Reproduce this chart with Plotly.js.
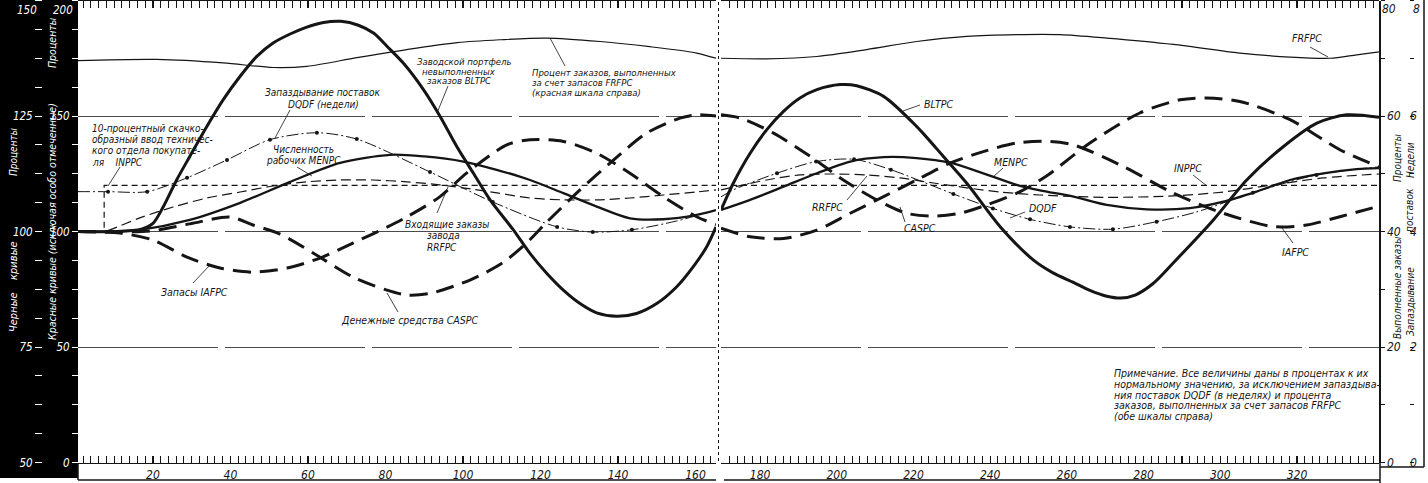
<!DOCTYPE html>
<html><head><meta charset="utf-8">
<script src="https://cdn.plot.ly/plotly-3.0.1.min.js"></script>
<style>html,body{margin:0;padding:0;background:#fff}#chart{width:1428px;height:483px}</style>
</head><body><div id="chart"></div>
<script>
// ---------------- DATA ----------------
// Panel 1 (weeks ~0-165), red scale % unless noted
const bltpcT1 = [0.6,10,17,20,22.7,26.1,29.5,33.9,38.1,42.5,46.8,51,55.4,59.7,64,68.5,73,77,80.5,84.6,89.8,94.1,98.4,102.7,107,113,117.3,121.6,125.9,130.2,134.5,139.7,144.8,150,155.1,159.4,162.9,165.3];
const bltpc1  = [100,100,101,103.5,110.8,122.3,132.5,145.5,157,167.2,175.8,181.6,185.5,188.5,190.5,191,189.3,185.8,180,172.9,161.4,149.8,136.8,125.2,113.7,100.7,90.5,81.9,74.6,68.8,64.8,63.3,64.5,68.8,76,84.7,93.4,102];
const menpcT1 = [0.6,10,16.6,29.5,42.5,55.4,68.3,81.2,90,100.1,108.7,117.3,125.9,134.5,143.1,151.7,160.3,165.3];
const menpc1  = [100,100,100.7,105,112.4,121.5,129.7,133.2,132.5,130.3,126.7,122.3,116.6,110.8,105.7,105.3,107.2,109.3];
const iafpcT1 = [0.6,11.5,20,28.8,37.3,45.8,54.6,63.1,71.6,80.4,85.5,94,101,111.3,117.3,125.9,134.5,143.1,151.7,160.3,165.3];
const iafpc1  = [100,99.3,96.3,88.9,84.2,82.4,84.2,88.5,95,101.9,106.3,115,125.4,137.5,139.7,139,133.9,125.2,115.1,106.4,103];
const caspcT1 = [0.6,19.2,29.5,39.9,45.8,52.8,61.3,71.6,80.4,85.5,91.5,101.8,110.3,117,121.6,130.2,138.9,147.4,156,160.3,165.3];
const caspc1  = [100,100.2,103.3,106.3,102.8,98.9,90.7,80.3,74.6,72.5,73.2,79,86.5,96,104,118,131,142.6,149.1,150.5,150];
const rrfpcT1 = [0.6,7.4,8.9,16.6,25.2,33.9,42.5,51,59.7,68.3,76.8,85.5,94,100,108.8,117.3,125.8,134.6,143.1,151.7,160.3,165.3];
const rrfpc1  = [100,100,100.7,105.9,110.6,114.5,117.1,119.7,121.5,122.3,122.3,121.5,120.2,118.9,116.7,114.5,113.7,113.7,114.5,115.8,117.1,118];
// INPPC on the black scale (10 % step)
const inppcT1 = [0.6,7.4,7.4,165.3];
const inppc1  = [100,100,110,110];
// FRFPC, % of orders filled from stock (right scale 0-80)
const frfpcT1 = [0.6,21,38.1,51,59.7,72.6,85.5,98.5,109.5,121.6,135.4,148.2,160.3,165.3];
const frfpc1  = [69.6,69.8,69.2,68.4,68.6,70.1,71.5,72.7,73.2,73.5,72.9,72,70.9,70];
// DQDF, delivery delay in weeks (right scale 0-8)
const dqdfT1 = [0.6,8.4,18.5,28.8,39.1,50.2,62.3,72.6,91.5,107.7,124.3,133.5,143.6,155,165.3];
const dqdf1  = [4.69,4.69,4.69,4.93,5.24,5.59,5.71,5.60,5.03,4.51,4.08,3.99,4.03,4.18,4.37];
const dqdfDotT1 = [8.4,18.5,28.8,39.1,50.2,62.3,72.6,91.5,107.7,124.3,133.5,143.6];
const dqdfDot1  = [4.69,4.69,4.93,5.24,5.59,5.71,5.60,5.03,4.51,4.08,3.99,4.03];

// Panel 2 (weeks ~170-341)
const bltpcT2 = [169.8,173,177.4,181.7,186.1,190.4,194.8,200.9,205.2,212.2,220.8,227.8,233.9,242.6,251.3,256.5,261.7,266,270.4,274.1,277.8,282.5,287.8,298.2,306.9,316.5,325.2,333,341.4];
const bltpc2  = [109.3,120.9,133.9,144,152,157.8,161.4,163.6,163.1,158.5,145.5,132.5,120.9,102.1,87.6,82,78,74.5,72,71.2,72.5,77.5,86.5,105,122.3,136.8,146.9,150.5,149.5];
const menpcT2 = [169.8,177.4,186.1,194.8,203.5,212.2,220.8,229.5,238.2,246.9,253,261.7,270.4,280.8,292.1,300.8,309.5,318.2,326.9,335.6,341.4];
const menpc2  = [109.3,113.7,119.4,125.2,130.3,132.2,131.8,129.8,125.2,120.2,117.8,115.1,111.5,109.6,110.1,112.9,117.3,122.3,125.2,127,127.4];
const iafpcT2 = [169.8,177.4,186.1,194.8,203.5,212.2,220.8,229.5,238.2,246.9,255.6,261.7,274.8,287.8,300.8,313.9,322.5,331.2,341.4];
const iafpc2  = [101.4,97.7,97,100.6,107.9,115.1,122.3,129.6,134.6,138.3,139,137.5,128.1,116.6,107.9,102.1,102.8,106.4,111];
const caspcT2 = [169.8,174.8,183.5,193.1,201.7,210.4,218.2,225.2,232.1,239.1,247.8,254.5,266,279,289.5,296.4,305.1,318.2,331.2,341.4];
const caspc2  = [150.5,149.1,142.6,132.5,122.3,113.7,107.9,106.7,107.9,111.5,117.3,123.8,138.3,151.3,157,157.8,156.3,148.4,135.4,128];
const rrfpcT2 = [169.8,181.7,190.4,199.1,207.8,216.5,225.2,233.9,242.6,253,270.4,287.8,300.8,313.9,326.9,341.4];
const rrfpc2  = [118,122.3,124.5,124.9,124.5,123.2,121,118.9,117.1,115.8,114.8,115.4,117.1,120.2,123.2,124.9];
const inppcT2 = [169.8,341.4];
const inppc2  = [110,110];
const frfpcT2 = [169.8,181.7,194.8,207.8,220.8,233.9,246.9,258.2,270.4,287.8,305.1,318.2,328.6,335.6,341.4];
const frfpc2  = [70,69.9,70.3,71.5,72.9,73.8,74.1,74.1,73.5,72.4,70.9,70.2,70,70.6,71.1];
const dqdfT2 = [169.8,173,184.4,194.6,204.5,214.1,230.4,240.7,250.4,260.8,272,283.4,293.9,308.5,325.1,341.4];
const dqdf2  = [4.6,4.72,5.01,5.21,5.25,5.07,4.65,4.40,4.21,4.08,4.04,4.17,4.34,4.67,4.98,5.12];
const dqdfDotT2 = [184.4,194.6,204.5,214.1,230.4,240.7,250.4,260.8,272,283.4,308.5,325.1];
const dqdfDot2  = [5.01,5.21,5.25,5.07,4.65,4.40,4.21,4.08,4.04,4.17,4.67,4.98];

// Tick values / labels
const xTicks1 = [10,20,30,40,50,60,70,80,90,100,110,120,130,140,150,160];
const xTicks2 = [170,180,190,200,210,220,230,240,250,260,270,280,290,300,310,320,330,340];
const redTicks = [0,50,100,150];
const blackTicks = [50,75,100,125];
const pctTicks = [0,20,40,60];
const weekTicks = [0,2,4,6];

// ---------------- LAYOUT HELPERS ----------------
const W = 1428, H = 483;
const px = v => v / W, py = v => 1 - v / H;
const FONT = "'Liberation Sans Narrow','DejaVu Sans Condensed','Liberation Sans','DejaVu Sans',sans-serif";
const INK = '#151515';

function line(xs, ys, xa, ya, ln, shape) {
  return {type:'scatter', mode:'lines', x:xs, y:ys, xaxis:xa, yaxis:ya, hoverinfo:'skip', showlegend:false,
          line:Object.assign({color:INK, shape: shape || 'spline', smoothing:0.8}, ln)};
}
function dots(xs, ys, xa, ya) {
  return {type:'scatter', mode:'markers', x:xs, y:ys, xaxis:xa, yaxis:ya, hoverinfo:'skip', showlegend:false,
          marker:{color:INK, size:4}};
}
const S = {
  bl: {width:3},
  me: {width:2.3},
  ia: {width:3, dash:'18px,9px'},
  ca: {width:3, dash:'18px,9px'},
  rr: {width:1.2, dash:'10px,5px'},
  in: {width:1.2, dash:'6px,4px'},
  fr: {width:1.2},
  dq: {width:1, dash:'12px,3px,2px,3px'}
};
const traces = [
  line(frfpcT1, frfpc1, 'x', 'y2', S.fr), line(frfpcT2, frfpc2, 'x2', 'y2', S.fr),
  line(inppcT1, inppc1, 'x', 'y3', S.in, 'linear'), line(inppcT2, inppc2, 'x2', 'y3', S.in, 'linear'),
  line(rrfpcT1, rrfpc1, 'x', 'y', S.rr), line(rrfpcT2, rrfpc2, 'x2', 'y', S.rr),
  line(dqdfT1, dqdf1, 'x', 'y4', S.dq), line(dqdfT2, dqdf2, 'x2', 'y4', S.dq),
  dots(dqdfDotT1, dqdfDot1, 'x', 'y4'), dots(dqdfDotT2, dqdfDot2, 'x2', 'y4'),
  line(iafpcT1, iafpc1, 'x', 'y', S.ia), line(iafpcT2, iafpc2, 'x2', 'y', S.ia),
  line(caspcT1, caspc1, 'x', 'y', S.ca), line(caspcT2, caspc2, 'x2', 'y', S.ca),
  line(menpcT1, menpc1, 'x', 'y', S.me), line(menpcT2, menpc2, 'x2', 'y', S.me),
  line(bltpcT1, bltpc1, 'x', 'y', S.bl), line(bltpcT2, bltpc2, 'x2', 'y', S.bl)
];

const tickFont = {family:FONT, size:12, color:INK, style:'italic'};
const whiteFont = {family:FONT, size:11.5, color:'#fff', style:'italic'};
function xAxis(domain, range, ticks) {
  return {domain, range, anchor:'y', tickmode:'array', tickvals:ticks,
    ticktext:ticks.map(v => (v % 20 === 0 && v <= 320) ? String(v) : ''),
    ticks:'inside', ticklen:7, tickwidth:1.2, tickcolor:INK, mirror:'allticks',
    showline:true, linecolor:INK, linewidth:1.6, showgrid:false, zeroline:false,
    tickfont:tickFont, minor:{dtick:2, tick0:0, ticks:'inside', ticklen:3, tickcolor:INK, tickwidth:1, showgrid:false}};
}
const yDomain = [py(462.5), py(0.5)];

const layout = {
  width:W, height:H, margin:{l:0, r:0, t:0, b:0}, paper_bgcolor:'#fff', plot_bgcolor:'rgba(0,0,0,0)',
  showlegend:false, font:{family:FONT, color:INK},
  xaxis: xAxis([px(78), px(716)], [0.65, 165.3], xTicks1),
  xaxis2: xAxis([px(721), px(1379)], [169.8, 341.4], xTicks2),
  yaxis: {domain:yDomain, range:[0,200], anchor:'free', position:px(78), side:'left',
    tickmode:'array', tickvals:redTicks, ticks:'outside', ticklen:6, tickcolor:'#fff', tickfont:whiteFont,
    showgrid:true, gridcolor:'#4a4a4a', gridwidth:1, griddash:'140px,7px', zeroline:false, showline:false,
    minor:{dtick:12.5, tick0:0, ticks:'outside', ticklen:6, tickcolor:'#fff', showgrid:false}},
  yaxis3: {overlaying:'y', range:[50,150], anchor:'free', position:px(42), side:'left',
    tickmode:'array', tickvals:blackTicks, ticks:'outside', ticklen:7, tickcolor:'#fff', tickfont:whiteFont,
    showgrid:false, zeroline:false, showline:false,
    minor:{dtick:6.25, tick0:50, ticks:'outside', ticklen:7, tickcolor:'#fff', showgrid:false}},
  yaxis2: {overlaying:'y', range:[0,80], anchor:'free', position:px(1379), side:'right',
    tickmode:'array', tickvals:pctTicks, ticks:'outside', ticklen:4, tickcolor:INK, tickfont:tickFont,
    showgrid:false, zeroline:false, showline:true, linecolor:INK, linewidth:1.6,
    minor:{dtick:10, tick0:0, ticks:'outside', ticklen:4, tickcolor:INK, showgrid:false}},
  yaxis4: {overlaying:'y', range:[0,8], anchor:'free', position:px(1409), side:'right',
    tickmode:'array', tickvals:weekTicks, ticks:'', tickfont:tickFont,
    showgrid:false, zeroline:false, showline:false,
    minor:{dtick:1, tick0:0, ticks:'outside', ticklen:4, tickcolor:INK, showgrid:false}},
  shapes: [], annotations: []
};

// black band on the left + frame lines
const sh = layout.shapes;
sh.push({type:'rect', xref:'paper', yref:'paper', x0:0, x1:px(78), y0:py(478), y1:1, fillcolor:'#000', line:{width:0}, layer:'below'});
function seg(x0,y0,x1,y1,w,dash){ sh.push({type:'line', xref:'paper', yref:'paper', x0:px(x0), y0:py(y0), x1:px(x1), y1:py(y1), line:{color:INK, width:w||1, dash:dash||'solid'}}); }
seg(78,463,78,480,1.5); seg(78,480,716,480,1.5); seg(724,480,1380,480,1.5); seg(1380,463,1380,483,1.5);
seg(1424,0,1424,467,1.5); seg(1380,467,1424,467,1.5);
seg(718.5,2,718.5,462,1,'dot');

// text helpers
const an = layout.annotations;
function T(s, x, y, o) {
  o = o || {};
  an.push({text:s, xref:'paper', yref:'paper', x:px(x), y:py(y), xanchor:o.a || 'left', yanchor:'middle',
    showarrow:false, textangle:o.r || 0,
    font:{family:FONT, size:o.s || 10.5, color:o.c || INK, style:'italic'}});
}
function P(x0,y0,x1,y1){ seg(x0,y0,x1,y1,0.8); }

// top-of-scale labels
T('150', 27, 10, {a:'center', c:'#fff', s:11.5}); T('200', 63, 10, {a:'center', c:'#fff', s:11.5});
T('80', 1389, 9, {a:'center', s:12}); T('8', 1416, 9, {a:'center', s:12});

// rotated scale titles
T('Проценты', 13, 152, {a:'center', r:-90, c:'#fff', s:10});
T('Черные&nbsp;&nbsp;&nbsp;&nbsp;кривые', 13, 287, {a:'center', r:-90, c:'#fff', s:11});
T('Проценты', 52, 43, {a:'center', r:-90, c:'#fff', s:10.5});
T('Красные кривые (исключая особо отмеченные)', 52, 222, {a:'center', r:-90, c:'#fff', s:10.5});
T('Проценты', 1397, 158, {a:'center', r:-90, s:10});
T('Выполненные заказы', 1397, 288, {a:'center', r:-90, s:10});
T('Недели', 1410, 160, {a:'center', r:-90, s:10});
T('поставок', 1410, 210, {a:'center', r:-90, s:10});
T('Запаздывание', 1410, 302, {a:'center', r:-90, s:10});

// panel 1 labels
T('10-процентный скачко-', 90, 128, {s:10}); T('образный ввод техничес-', 90, 139.5, {s:10});
T('кого отдела покупате-', 90, 151, {s:10}); T('ля&nbsp;&nbsp;&nbsp;&nbsp;INPPC', 90, 162.5, {s:10}); P(120,167,108,186);
T('Запаздывание поставок', 323, 92, {a:'center', s:10}); T('DQDF (недели)', 323, 104, {a:'center', s:10}); P(290,110,275,138);
T('Численность', 303, 149, {a:'center', s:10}); T('рабочих MENPC', 303, 161, {a:'center', s:10}); P(297,167,312,176);
T('Заводской портфель', 415, 61, {s:9.5}); T('невыполненных', 420, 71, {s:9.5}); T('заказов BLTPC', 425, 81, {s:9.5}); P(448,86,437,113);
T('Процент заказов, выполненных', 530, 72, {s:9.5}); T('за счет запасов FRFPC', 530, 82, {s:9.5}); T('(красная шкала справа)', 530, 92, {s:9.5}); P(565,66,550,38);
T('Входящие заказы', 447, 224, {a:'center', s:10}); T('завода', 443, 235.5, {a:'center', s:10}); T('RRFPC', 442, 247, {a:'center', s:10}); P(437,213,448,187);
T('Запасы IAFPC', 195, 292, {a:'center'}); P(193,283,210,265);
T('Денежные средства CASPC', 409, 320, {a:'center'}); P(398,312,387,293);

// panel 2 labels
T('BLTPC', 922, 104); P(920,105,903,111);
T('MENPC', 992, 162); P(1003,168,993,177);
T('RRFPC', 810, 207); P(847,200,867,176);
T('CASPC', 902, 228); P(905,222,900,207);
T('DQDF', 1027, 208); P(1025,212,1010,218);
T('FRFPC', 1290, 38); P(1310,47,1328,57);
T('INPPC', 1172, 168); P(1193,175,1207,186);
T('IAFPC', 1280, 252); P(1293,243,1282,228);

// note
T('Примечание. Все величины даны в процентах к их', 1112, 373);
T('нормальному значению, за исключением запаздыва-', 1112, 384);
T('ния поставок DQDF (в неделях) и процента', 1112, 394.5);
T('заказов, выполненных за счет запасов FRFPC', 1112, 405);
T('(обе шкалы справа)', 1112, 415.5);

Plotly.newPlot('chart', traces, layout, {staticPlot:true, displayModeBar:false});
</script></body></html>
